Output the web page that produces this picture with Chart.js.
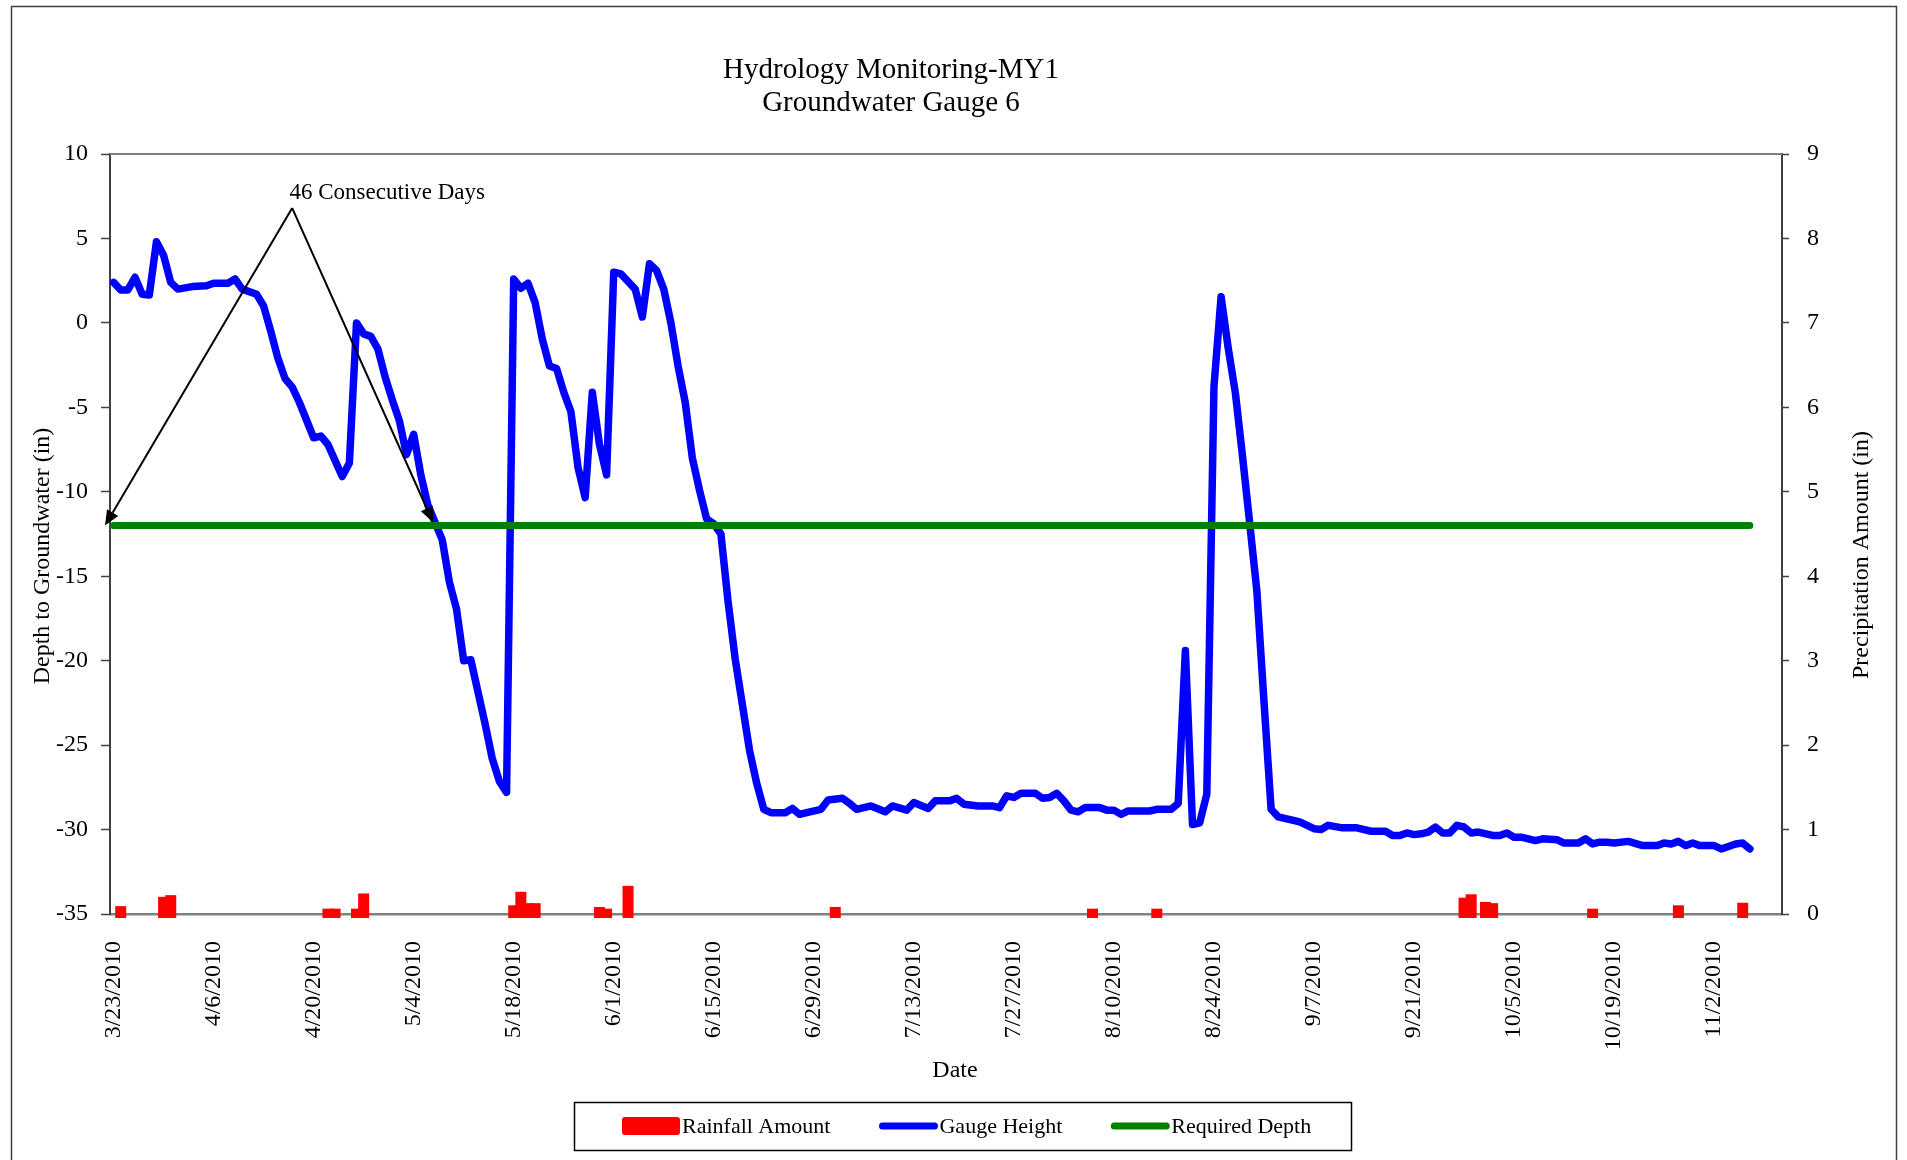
<!DOCTYPE html>
<html>
<head>
<meta charset="utf-8">
<title>Groundwater Gauge 6</title>
<script src="https://cdn.jsdelivr.net/npm/chart.js@4.4.1/dist/chart.umd.min.js"></script>
<style>
  html, body { margin: 0; padding: 0; background: #fff; }
  #wrap { width: 1907px; height: 1160px; }
</style>
</head>
<body>
<div id="wrap"><canvas id="gaugeChart"></canvas></div>
<script>
// x values are days counted from 3/23/2010
const gaugeDay = [0, 1, 2, 3, 4, 5, 6, 7, 8, 9, 11, 13, 14, 16, 17, 18, 20, 21, 22, 23, 24, 25, 26, 28, 29, 30,
  32, 33, 34, 35, 36, 37, 38, 39, 40, 41, 42, 43, 44, 46, 47, 48, 49, 50, 52, 53, 54, 55, 56, 57, 58, 59,
  60, 61, 62, 63, 64, 65, 66, 67, 68, 69, 70, 71, 72, 73, 74, 75, 76, 77, 78, 79, 80, 81, 82, 83, 84, 85,
  86, 87, 88, 89, 90, 91, 92, 94, 95, 96, 97, 99, 100, 102, 103, 104, 106, 108, 109, 111, 112, 114, 115,
  117, 118, 119, 121, 123, 124, 125, 126, 127, 129, 130, 131, 132, 133, 134, 135, 136, 138, 139, 140, 141,
  142, 145, 146, 148, 149, 150, 151, 152, 153, 154, 155, 156, 157, 158, 159, 160, 161, 162, 163, 166, 168,
  169, 170, 172, 174, 176, 178, 179, 180, 181, 182, 183, 184, 185, 186, 187, 188, 189, 190, 191, 193, 194,
  195, 196, 197, 199, 200, 202, 203, 204, 205, 206, 207, 208, 209, 210, 212, 214, 216, 217, 218, 219, 220,
  221, 222, 224, 225, 227, 228, 229];
const gaugeDepth = [2.4, 1.95, 1.95, 2.7, 1.7, 1.65, 4.8, 4.0, 2.4, 2.0, 2.15, 2.2, 2.35, 2.35, 2.6, 2.0, 1.7,
  1.0, -0.5, -2.1, -3.3, -3.8, -4.7, -6.8, -6.7, -7.2,
  -9.1, -8.3, 0.0, -0.65, -0.8, -1.55, -3.2, -4.55, -5.8, -7.8, -6.6, -9.0, -10.8, -12.85, -15.35, -16.95,
  -20.0, -19.95, -23.75, -25.8, -27.15, -27.8, 2.6, 2.05, 2.35, 1.2,
  -0.95, -2.55, -2.7, -4.1, -5.25, -8.55, -10.35, -4.1, -7.2, -9.0, 3.0, 2.9, 2.45, 2.0, 0.35, 3.5, 3.1,
  2.0, 0.0, -2.55, -4.7, -8.0, -9.9, -11.6, -11.9, -12.5,
  -16.5, -19.9, -22.6, -25.3, -27.25, -28.8, -29.0, -29.0, -28.75, -29.1, -29.0, -28.8, -28.25, -28.15,
  -28.45, -28.8, -28.6, -28.95, -28.6, -28.85, -28.4, -28.75, -28.3,
  -28.3, -28.15, -28.5, -28.6, -28.6, -28.7, -28.0, -28.1, -27.85, -27.85, -28.15, -28.1, -27.85, -28.3,
  -28.85, -28.95, -28.7, -28.7, -28.85, -28.85, -29.1,
  -28.9, -28.9, -28.8, -28.8, -28.45, -19.4, -29.7, -29.6, -27.9, -3.8, 1.55, -1.5, -4.15, -7.9, -11.85,
  -15.85, -22.4, -28.8, -29.25, -29.55, -29.95,
  -30.0, -29.75, -29.9, -29.9, -30.1, -30.1, -30.35, -30.35, -30.2, -30.3, -30.25, -30.15, -29.85, -30.2,
  -30.2, -29.75, -29.85, -30.2, -30.15, -30.35, -30.35,
  -30.2, -30.45, -30.45, -30.65, -30.55, -30.6, -30.8, -30.8, -30.8, -30.55, -30.85, -30.75, -30.75, -30.8,
  -30.7, -30.95, -30.95, -30.8, -30.85, -30.7, -30.95,
  -30.8, -30.95, -30.95, -31.15, -30.85, -30.8, -31.15];

const rainDay = [1, 7, 8, 30, 31, 34, 35, 56, 57, 58, 59, 68, 69, 72, 101, 137, 146, 189, 190, 192, 193, 207, 219, 228];
const rainAmount = [0.04, 0.15, 0.17, 0.01, 0.01, 0.01, 0.19, 0.05, 0.21, 0.075, 0.075, 0.03, 0.01, 0.28, 0.03,
  0.01, 0.01, 0.14, 0.18, 0.09, 0.075, 0.01, 0.05, 0.08];

const requiredDepth = -12;

const tickDay = [0, 14, 28, 42, 56, 70, 84, 98, 112, 126, 140, 154, 168, 182, 196, 210, 224];
const tickLabels = ['3/23/2010', '4/6/2010', '4/20/2010', '5/4/2010', '5/18/2010', '6/1/2010', '6/15/2010',
  '6/29/2010', '7/13/2010', '7/27/2010', '8/10/2010', '8/24/2010', '9/7/2010', '9/21/2010', '10/5/2010',
  '10/19/2010', '11/2/2010'];

const titleLines = ['Hydrology Monitoring-MY1', 'Groundwater Gauge 6'];

// the "46 consecutive days" note, in data units
const noteText = '46 Consecutive Days';
const noteAt = { x: 38.3, y: 7.7 };
const noteApex = { x: 25, y: 6.8 };
const noteTips = [{ x: -1.2, y: -12 }, { x: 44.7, y: -11.8 }];

const serif = "'Liberation Serif', 'Times New Roman', serif";

function vText(ctx, text, x, y) {
  ctx.save();
  ctx.translate(x, y);
  ctx.rotate(-Math.PI / 2);
  ctx.fillText(text, 0, 0);
  ctx.restore();
}

function arrow(ctx, x1, y1, x2, y2) {
  const ang = Math.atan2(y2 - y1, x2 - x1);
  const len = 15, half = 6.5;
  const bx = x2 - len * Math.cos(ang), by = y2 - len * Math.sin(ang);
  ctx.beginPath();
  ctx.moveTo(x1, y1);
  ctx.lineTo(bx, by);
  ctx.stroke();
  ctx.beginPath();
  ctx.moveTo(x2, y2);
  ctx.lineTo(bx + half * Math.sin(ang), by - half * Math.cos(ang));
  ctx.lineTo(bx - half * Math.sin(ang), by + half * Math.cos(ang));
  ctx.closePath();
  ctx.fill();
}

const decorations = {
  id: 'decorations',
  beforeDatasetsDraw(chart) {
    const { ctx, chartArea: a } = chart;
    ctx.save();
    ctx.strokeStyle = '#808080';
    ctx.lineWidth = 2;
    ctx.beginPath();
    ctx.moveTo(a.left, a.top);
    ctx.lineTo(a.right, a.top);
    ctx.stroke();
    ctx.restore();
  },
  afterDraw(chart) {
    const { ctx, scales: { x, y } } = chart;
    ctx.save();

    // outer frame
    ctx.strokeStyle = '#404040';
    ctx.lineWidth = 1.5;
    ctx.strokeRect(11.5, 6.5, 1885, 1200);

    ctx.fillStyle = '#000';
    ctx.textAlign = 'center';
    ctx.textBaseline = 'middle';
    ctx.font = '29px ' + serif;
    ctx.fillText(titleLines[0], 891, 70);
    ctx.fillText(titleLines[1], 891, 103);

    ctx.font = '24px ' + serif;
    ctx.fillText('Date', 955, 1071);
    vText(ctx, 'Depth to Groundwater (in)', 43, 556);
    vText(ctx, 'Precipitation Amount (in)', 1862, 555);

    // annotation
    ctx.font = '23px ' + serif;
    ctx.fillText(noteText, x.getPixelForValue(noteAt.x), y.getPixelForValue(noteAt.y));
    ctx.strokeStyle = '#000';
    ctx.lineWidth = 2;
    const ax = x.getPixelForValue(noteApex.x), ay = y.getPixelForValue(noteApex.y);
    noteTips.forEach(t => arrow(ctx, ax, ay, x.getPixelForValue(t.x), y.getPixelForValue(t.y)));

    // legend
    ctx.strokeStyle = '#000';
    ctx.lineWidth = 1.5;
    ctx.strokeRect(574.5, 1102.5, 777, 48);
    ctx.font = '22px ' + serif;
    ctx.textAlign = 'left';
    const mid = 1126;
    let lx = 622;
    ['Rainfall Amount', 'Gauge Height', 'Required Depth'].forEach(name => {
      const ds = chart.data.datasets.find(d => d.label === name);
      if (ds.type === 'bar') {
        ctx.fillStyle = ds.backgroundColor;
        ctx.beginPath();
        ctx.roundRect(lx, mid - 9, 58, 18, 3);
        ctx.fill();
      } else {
        ctx.strokeStyle = ds.borderColor;
        ctx.lineWidth = 7;
        ctx.lineCap = 'round';
        ctx.beginPath();
        ctx.moveTo(lx + 3, mid);
        ctx.lineTo(lx + 55, mid);
        ctx.stroke();
      }
      ctx.fillStyle = '#000';
      ctx.fillText(name, lx + 60, mid + 1);
      lx += 60 + ctx.measureText(name).width + 49;
    });

    ctx.restore();
  }
};

const tickFont = { family: serif, size: 24 };

new Chart(document.getElementById('gaugeChart'), {
  type: 'line',
  data: {
    datasets: [{
      type: 'line',
      label: 'Required Depth',
      data: [{ x: gaugeDay[0], y: requiredDepth }, { x: gaugeDay[gaugeDay.length - 1], y: requiredDepth }],
      borderColor: '#008000',
      borderWidth: 7,
      borderCapStyle: 'round',
      pointRadius: 0,
      yAxisID: 'y',
      order: 1
    }, {
      type: 'line',
      label: 'Gauge Height',
      data: gaugeDay.map((d, i) => ({ x: d, y: gaugeDepth[i] })),
      borderColor: '#0000ff',
      borderWidth: 7.5,
      borderCapStyle: 'round',
      borderJoinStyle: 'round',
      tension: 0,
      pointRadius: 0,
      yAxisID: 'y',
      order: 2
    }, {
      type: 'bar',
      label: 'Rainfall Amount',
      data: rainDay.map((d, i) => ({ x: d, y: rainAmount[i] })),
      backgroundColor: '#ff0000',
      barThickness: 2,
      inflateAmount: 4.5,
      clip: false,
      yAxisID: 'y2',
      order: 3
    }]
  },
  options: {
    responsive: true,
    maintainAspectRatio: false,
    animation: false,
    events: [],
    layout: { padding: { top: 154 } },
    scales: {
      x: {
        type: 'linear',
        min: -0.5,
        max: 233.5,
        offset: false,
        grid: { display: false, offset: false },
        border: { color: '#808080', width: 2.5 },
        afterBuildTicks: s => { s.ticks = tickDay.map(v => ({ value: v })); },
        afterFit: s => { s.height = 246; },
        ticks: {
          autoSkip: false,
          minRotation: 90,
          maxRotation: 90,
          padding: 19,
          color: '#000',
          font: tickFont,
          callback: (v, i) => tickLabels[i]
        }
      },
      y: {
        position: 'left',
        min: -35,
        max: 10,
        grid: { drawOnChartArea: false, tickLength: 9, color: '#404040', tickWidth: 1.5 },
        border: { color: '#404040', width: 2 },
        afterFit: s => { s.width = 110; },
        ticks: { stepSize: 5, padding: 13, color: '#000', font: tickFont }
      },
      y2: {
        position: 'right',
        min: 0,
        max: 9,
        grid: { drawOnChartArea: false, tickLength: 7, color: '#404040', tickWidth: 1.5 },
        border: { color: '#404040', width: 2 },
        afterFit: s => { s.width = 125; },
        ticks: { stepSize: 1, padding: 18, color: '#000', font: tickFont }
      }
    },
    plugins: {
      legend: { display: false },
      title: { display: false },
      tooltip: { enabled: false }
    }
  },
  plugins: [decorations]
});
</script>
</body>
</html>
